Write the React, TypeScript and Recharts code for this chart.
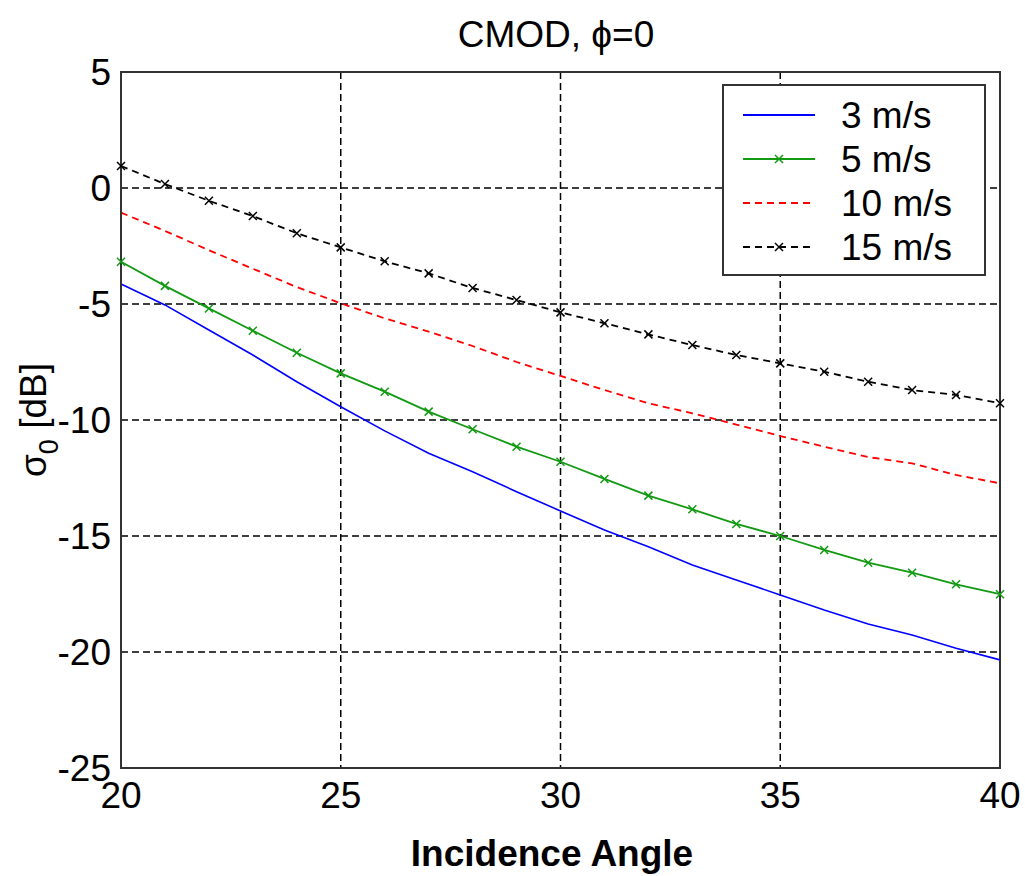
import {
  LineChart,
  Line,
  XAxis,
  YAxis,
  CartesianGrid,
  Legend,
  Label,
  ReferenceArea,
} from "recharts";

const FONT = '"Liberation Sans", Arial, Helvetica, sans-serif';

// incidence angle (deg)
const ANGLES = [20, 21, 22, 23, 24, 25, 26, 27, 28, 29, 30, 31, 32, 33, 34, 35, 36, 37, 38, 39, 40];

// sigma0 [dB] per wind speed
const WIND_3 = [-4.14, -5.04, -6.12, -7.2, -8.35, -9.43, -10.47, -11.43, -12.23, -13.09, -13.92, -14.74, -15.46, -16.25, -16.9, -17.54, -18.19, -18.79, -19.27, -19.84, -20.34];
const WIND_5 = [-3.18, -4.22, -5.19, -6.15, -7.1, -7.99, -8.78, -9.64, -10.4, -11.15, -11.8, -12.54, -13.26, -13.85, -14.48, -15.0, -15.6, -16.15, -16.58, -17.08, -17.51];
const WIND_10 = [-1.06, -1.85, -2.68, -3.48, -4.27, -4.97, -5.62, -6.19, -6.81, -7.5, -8.1, -8.71, -9.28, -9.71, -10.2, -10.69, -11.15, -11.6, -11.87, -12.37, -12.73];
const WIND_15 = [0.95, 0.17, -0.55, -1.21, -1.95, -2.56, -3.16, -3.68, -4.31, -4.83, -5.36, -5.83, -6.31, -6.77, -7.2, -7.56, -7.92, -8.35, -8.71, -8.92, -9.28];

const X_TICKS = [20, 25, 30, 35, 40];
const Y_TICKS = [-25, -20, -15, -10, -5, 0, 5];

const SERIES = [
  { key: "w3", name: "3 m/s", color: "#0000ff", dash: undefined, marker: false },
  { key: "w5", name: "5 m/s", color: "#129a12", dash: undefined, marker: true },
  { key: "w10", name: "10 m/s", color: "#ff0000", dash: "7 5", marker: false },
  { key: "w15", name: "15 m/s", color: "#000000", dash: "7 5", marker: true },
];

const data = ANGLES.map((a, i) => ({
  angle: a,
  w3: WIND_3[i],
  w5: WIND_5[i],
  w10: WIND_10[i],
  w15: WIND_15[i],
}));

const crossDot = (color: string) => (props: any) => {
  const { cx, cy, index } = props;
  if (cx == null || cy == null) return <g key={`e-${index}`} />;
  const s = 4;
  return (
    <path
      key={`x-${color}-${index}`}
      d={`M${cx - s},${cy - s}L${cx + s},${cy + s}M${cx - s},${cy + s}L${cx + s},${cy - s}`}
      stroke={color}
      strokeWidth={1.5}
      fill="none"
    />
  );
};

function LegendBox() {
  return (
    <svg width={264} height={192} style={{ display: "block" }}>
      <rect x={1} y={1} width={262} height={190} fill="#fff" stroke="#333" strokeWidth={2} />
      {SERIES.map((s, i) => {
        const cy = 31 + i * 44;
        return (
          <g key={s.key}>
            <line x1={21} x2={93} y1={cy} y2={cy} stroke={s.color} strokeWidth={2} strokeDasharray={s.dash} />
            {s.marker && (
              <path
                d={`M${57 - 4},${cy - 4}L${57 + 4},${cy + 4}M${57 - 4},${cy + 4}L${57 + 4},${cy - 4}`}
                stroke={s.color}
                strokeWidth={1.5}
              />
            )}
            <text x={119} y={cy + 13} fontSize={37} fontFamily={FONT} fill="#000">
              {s.name}
            </text>
          </g>
        );
      })}
    </svg>
  );
}

export default function App() {
  return (
    <div style={{ position: "absolute", left: 0, top: 0, width: 1025, height: 876, background: "#fff" }}>
      <div
        style={{
          position: "absolute",
          left: 356,
          top: 16,
          width: 400,
          textAlign: "center",
          fontFamily: FONT,
          fontSize: 37,
          lineHeight: "37px",
          color: "#000",
          zIndex: 2,
        }}
      >
        CMOD, ϕ=0
      </div>
      <LineChart
        width={1025}
        height={876}
        data={data}
        margin={{ top: 72, right: 25, bottom: 0, left: 0 }}
        style={{ fontFamily: FONT }}
      >
        <CartesianGrid stroke="#000" strokeWidth={1.5} strokeDasharray="7 4" />
        <XAxis
          dataKey="angle"
          type="number"
          domain={[20, 40]}
          ticks={X_TICKS}
          interval={0}
          height={108}
          tickLine={false}
          tickSize={8}
          tickMargin={6}
          axisLine={{ stroke: "#333", strokeWidth: 2 }}
          tick={{ fill: "#000", fontSize: 37 }}
        >
          <Label
            content={() => (
              <text x={552} y={866} textAnchor="middle" fontSize={37} fontWeight="bold" fontFamily={FONT} fill="#000">
                Incidence Angle
              </text>
            )}
          />
        </XAxis>
        <YAxis
          type="number"
          domain={[-25, 5]}
          ticks={Y_TICKS}
          interval={0}
          width={121}
          allowDataOverflow
          tickLine={false}
          tickSize={6}
          tickMargin={4}
          axisLine={{ stroke: "#333", strokeWidth: 2 }}
          tick={{ fill: "#000", fontSize: 37 }}
        >
          <Label
            content={() => (
              <text
                x={46}
                y={420}
                transform="rotate(-90, 46, 420)"
                textAnchor="middle"
                fontSize={37}
                fontFamily={FONT}
                fill="#000"
              >
                <tspan>σ</tspan>
                <tspan fontSize={27} dy={12}>0</tspan>
                <tspan dy={-12}> [dB]</tspan>
              </text>
            )}
          />
        </YAxis>
        <ReferenceArea x1={20} x2={40} y1={-25} y2={5} fill="none" stroke="#333" strokeWidth={2} />
        <Legend
          layout="horizontal"
          verticalAlign="middle"
          align="center"
          wrapperStyle={{ left: 722, top: 84, width: 264, height: 192 }}
          content={() => <LegendBox />}
        />
        {SERIES.map((s) => (
          <Line
            key={s.key}
            dataKey={s.key}
            name={s.name}
            type="linear"
            stroke={s.color}
            strokeWidth={s.key === "w3" ? 1.6 : 1.8}
            strokeDasharray={s.dash}
            dot={s.marker ? crossDot(s.color) : false}
            activeDot={false}
            isAnimationActive={false}
          />
        ))}
      </LineChart>
    </div>
  );
}
